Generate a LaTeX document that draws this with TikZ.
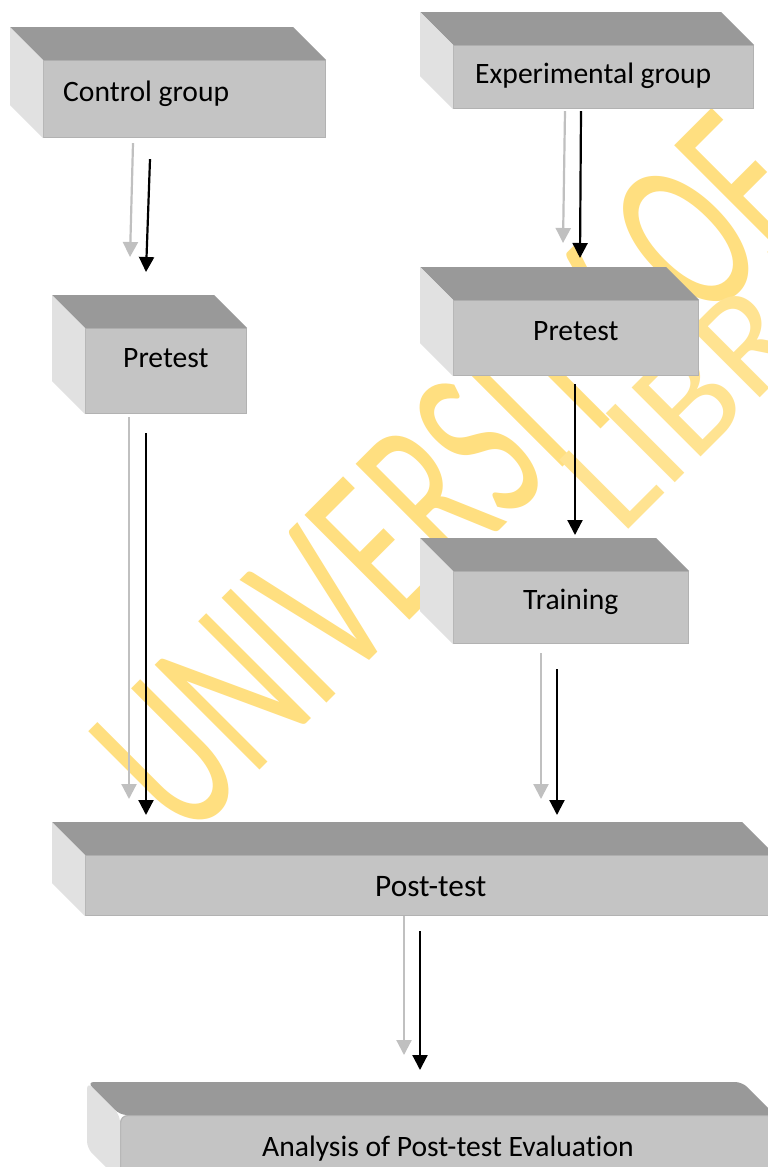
\documentclass[tikz,border=0pt]{standalone}
\usepackage{fontspec}
\setmainfont{Carlito}[Ligatures=NoCommon]
\newfontfamily\markfont{Carlito}[Ligatures=NoCommon]
\usetikzlibrary{arrows.meta,calc}

\definecolor{topgray}{RGB}{153,153,153}
\definecolor{frontgray}{RGB}{196,196,196}
\definecolor{sidegray}{RGB}{225,225,225}
\definecolor{edgegray}{RGB}{178,178,178}
\definecolor{shadowgray}{RGB}{192,192,192}
\definecolor{markyellow}{RGB}{255,223,128}
\definecolor{markyellowlight}{RGB}{255,227,145}

\tikzset{
  front/.style={fill=frontgray, draw=edgegray, line width=1.2pt, inner sep=0pt, anchor=north west},
  topface/.style={fill=topgray},
  sideface/.style={fill=sidegray},
  boxtext/.style={anchor=base west, inner sep=0pt, font=\fontsize{29.6}{30}\selectfont},
  bigboxtext/.style={boxtext, font=\fontsize{31.3}{32}\selectfont},
  flow/.style={line width=2.2pt, black, -{Triangle[width=15pt,length=15pt]}},
  flowshadow/.style={line width=2.2pt, shadowgray, -{Triangle[width=15pt,length=15pt]}},
  markword/.style={anchor=base west, inner sep=0pt, rotate=45}
}

% top and left bevel faces of a block whose front face is node #1
\newcommand\blockfaces[2]{%
  \fill[topface] (#1.north west) -- ++(-#2,#2) -- ([shift={(-#2,#2)}]#1.north east) -- (#1.north east) -- cycle;
  \fill[sideface] (#1.north west) -- ++(-#2,#2) -- ([shift={(-#2,#2)}]#1.south west) -- (#1.south west) -- cycle;
}

\begin{document}
\begin{tikzpicture}[x=1pt,y=1pt]
\useasboundingbox (0,0) rectangle (768,-1167);
\clip (0,0) rectangle (768,-1167);
\fill[white] (0,0) rectangle (768,-1167);

% watermark
\node[markword, text=markyellow] (wm1) at (186,-844)
  {\markfont\fontsize{231}{231}\selectfont\scalebox{0.63}[1]{UNIVERSITY OF}};
\node[markword, text=markyellowlight] (wm2) at (621.5,-536.5)
  {\markfont\fontsize{152}{152}\selectfont LIBRARY};

% blocks
\node[front, minimum width=282pt, minimum height=77pt] (cg) at (43,-60) {};
\blockfaces{cg}{33}
\node[front, minimum width=300pt, minimum height=63pt] (eg) at (453,-45) {};
\blockfaces{eg}{33}
\node[front, minimum width=161pt, minimum height=85pt] (pl) at (85,-328) {};
\blockfaces{pl}{33}
\node[front, minimum width=245pt, minimum height=75pt] (pr) at (453,-300) {};
\blockfaces{pr}{33}
\node[front, minimum width=235pt, minimum height=72pt] (tr) at (453,-571) {};
\blockfaces{tr}{33}
\node[front, minimum width=689pt, minimum height=60pt] (pt) at (85,-855) {};
\blockfaces{pt}{33}
\node[front, rounded corners=7pt, minimum width=654pt, minimum height=65pt] (an) at (120,-1115) {};
\begin{scope}[rounded corners=7pt]
\blockfaces{an}{33}
\end{scope}

% labels
\node[boxtext] (cgl) at (63,-101.5) {Control group};
\node[boxtext] (egl) at (475,-83.5) {Experimental group};
\node[boxtext] (pll) at (123,-367) {Pretest};
\node[boxtext] (prl) at (533,-340) {Pretest};
\node[boxtext] (trl) at (523,-609) {Training};
\node[bigboxtext] (ptl) at (375,-896.5) {Post-test};
\node[boxtext] (anl) at (262,-1156) {Analysis of Post-test Evaluation};

% connectors with their shadows
\draw[flowshadow] ([shift={(90,-5)}]cg.south west) -- ([shift={(45,71)}]pl.north west);
\draw[flow] ([shift={(107,-21)}]cg.south west) -- ([shift={(61,56)}]pl.north west);

\draw[flowshadow] ([shift={(112,-2)}]eg.south west) -- ([shift={(110,57)}]pr.north west);
\draw[flow] ([shift={(128,-2)}]eg.south west) -- ([shift={(127,42)}]pr.north west);

\draw[flowshadow] ([shift={(44,-3)}]pl.south west) -- ([shift={(44,56)}]pt.north west);
\draw[flow] ([shift={(61,-19)}]pl.south west) -- ([shift={(61,40)}]pt.north west);

\draw[flow] ([shift={(122,-8)}]pr.south west) -- ([shift={(122,36)}]tr.north west);

\draw[flowshadow] ([shift={(88,-9)}]tr.south west) -- ([shift={(456,56)}]pt.north west);
\draw[flow] ([shift={(104,-25)}]tr.south west) -- ([shift={(472,40)}]pt.north west);

\draw[flowshadow] ([shift={(319,0)}]pt.south west) -- ([shift={(284,60)}]an.north west);
\draw[flow] ([shift={(335,-15)}]pt.south west) -- ([shift={(300,45)}]an.north west);
\end{tikzpicture}
\end{document}
